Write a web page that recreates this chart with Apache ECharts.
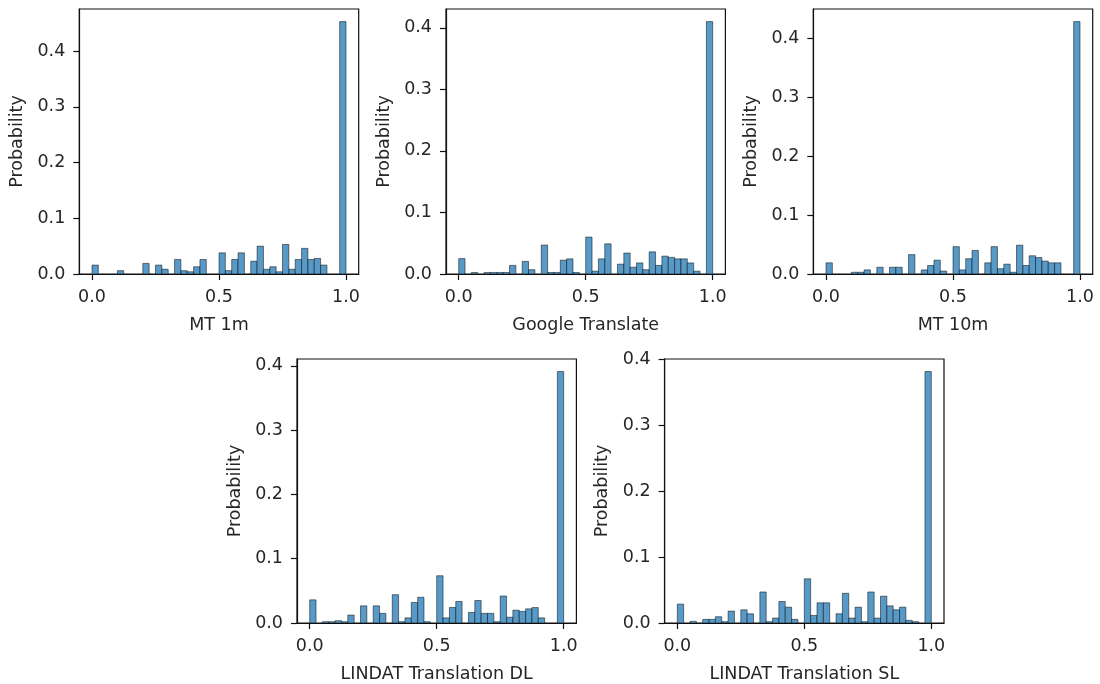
<!DOCTYPE html>
<html>
<head>
<meta charset="utf-8">
<script src="https://cdn.jsdelivr.net/npm/echarts@6/dist/echarts.min.js"></script>
<style>
  html, body { margin: 0; padding: 0; background: #fff; }
  #chart { width: 1100px; height: 684px; }
</style>
</head>
<body>
<div id="chart"></div>
<script>
// ---- Data (probability per bin; 40 bins of width 0.025 over [0, 1]) ----
const BIN_START = 0;
const BIN_WIDTH = 0.025;

const titles = ["MT 1m", "Google Translate", "MT 10m", "LINDAT Translation DL", "LINDAT Translation SL"];

const mt1m = [0.016, 0, 0, 0, 0.006, 0, 0, 0, 0.019, 0,
  0.016, 0.0085, 0, 0.026, 0.006, 0.004, 0.013, 0.026, 0, 0,
  0.038, 0.006, 0.026, 0.038, 0, 0.023, 0.05, 0.0085, 0.013, 0.004,
  0.053, 0.0085, 0.026, 0.046, 0.026, 0.028, 0.016, 0, 0, 0.453];

const googleTranslate = [0.025, 0, 0.0025, 0, 0.0025, 0.0025, 0.0025, 0.0025, 0.014, 0,
  0.0205, 0.007, 0, 0.047, 0.0025, 0.0025, 0.0225, 0.0246, 0.0025, 0,
  0.060, 0.0046, 0.0246, 0.049, 0, 0.016, 0.034, 0.011, 0.018, 0.007,
  0.036, 0.014, 0.029, 0.027, 0.0246, 0.0246, 0.018, 0.0046, 0, 0.410];

const mt10m = [0.019, 0, 0, 0, 0.003, 0.003, 0.007, 0, 0.0115, 0,
  0.0115, 0.0115, 0, 0.033, 0, 0.007, 0.0145, 0.0235, 0.005, 0,
  0.0465, 0.007, 0.026, 0.040, 0, 0.019, 0.0465, 0.009, 0.0167, 0.003,
  0.049, 0.0145, 0.031, 0.028, 0.022, 0.019, 0.019, 0, 0, 0.429];

const lindatDL = [0.036, 0, 0.002, 0.002, 0.0036, 0.002, 0.0123, 0, 0.0267, 0,
  0.0267, 0.015, 0, 0.044, 0.002, 0.008, 0.032, 0.040, 0.002, 0,
  0.0735, 0.008, 0.0242, 0.0335, 0, 0.0165, 0.035, 0.015, 0.015, 0.002,
  0.042, 0.009, 0.020, 0.018, 0.022, 0.024, 0.008, 0, 0, 0.391];

const lindatSL = [0.0286, 0, 0.0025, 0, 0.0055, 0.0055, 0.0095, 0.002, 0.018, 0,
  0.020, 0.014, 0, 0.047, 0.002, 0.0075, 0.0326, 0.024, 0.0055, 0,
  0.067, 0.0115, 0.0306, 0.0306, 0, 0.014, 0.045, 0.0075, 0.024, 0.002,
  0.047, 0.0075, 0.0406, 0.026, 0.020, 0.024, 0.004, 0.002, 0, 0.381];

const xTicks = [0, 0.5, 1.0];
const yTicks = [0, 0.1, 0.2, 0.3, 0.4];

const allSeries = [mt1m, googleTranslate, mt10m, lindatDL, lindatSL];

// ---- Layout ----
const grids = [
  { left: 79.3, top: 9, width: 279.4, height: 265 },
  { left: 446, top: 9, width: 279.4, height: 265 },
  { left: 813.3, top: 9, width: 279.4, height: 265 },
  { left: 297, top: 359, width: 279.4, height: 266 },
  { left: 664.6, top: 359, width: 279.4, height: 266 }
];

const FONT = "DejaVu Sans";
const FS = 17.5;
const TXT = "#262626";

const option = {
  animation: false,
  backgroundColor: "#ffffff",
  grid: grids.map(g => Object.assign({ show: true, borderColor: "#111", borderWidth: 1.2, backgroundColor: "transparent", containLabel: false }, g)),
  xAxis: grids.map((g, i) => ({
    type: "value",
    gridIndex: i,
    min: -0.05,
    max: 1.05,
    name: titles[i],
    nameLocation: "middle",
    nameGap: 42,
    nameTextStyle: { fontFamily: FONT, fontSize: FS, color: TXT },
    splitLine: { show: false },
    axisLine: { show: true, onZero: false, lineStyle: { color: "#111", width: 1.2 } },
    axisTick: { show: true, customValues: xTicks, length: 6, lineStyle: { color: "#111", width: 1.2 } },
    axisLabel: {
      customValues: xTicks, margin: 14,
      fontFamily: FONT, fontSize: FS, color: TXT,
      formatter: v => Number(v).toFixed(1)
    }
  })),
  yAxis: grids.map((g, i) => ({
    type: "value",
    gridIndex: i,
    min: 0,
    max: Math.max.apply(null, allSeries[i]) * 1.05,
    name: "Probability",
    nameLocation: "middle",
    nameGap: 53,
    nameRotate: 90,
    nameTextStyle: { fontFamily: FONT, fontSize: FS, color: TXT },
    splitLine: { show: false },
    axisLine: { show: true, onZero: false, lineStyle: { color: "#111", width: 1.2 } },
    axisTick: { show: true, customValues: yTicks, length: 6, lineStyle: { color: "#111", width: 1.2 } },
    axisLabel: {
      customValues: yTicks, margin: 14,
      fontFamily: FONT, fontSize: FS, color: TXT,
      formatter: v => Number(v).toFixed(1)
    }
  })),
  series: allSeries.map((vals, i) => ({
    type: "custom",
    xAxisIndex: i,
    yAxisIndex: i,
    data: vals.map((v, k) => [BIN_START + k * BIN_WIDTH, BIN_START + (k + 1) * BIN_WIDTH, v]),
    encode: { x: [0, 1], y: 2 },
    renderItem: function (params, api) {
      const h = api.value(2);
      if (!h) return null;
      const p0 = api.coord([api.value(0), 0]);
      const p1 = api.coord([api.value(1), h]);
      return {
        type: "rect",
        shape: { x: p0[0], y: p1[1], width: p1[0] - p0[0], height: p0[1] - p1[1] },
        style: { fill: "#5799c7", stroke: "rgba(0,0,0,0.7)", lineWidth: 0.7 }
      };
    }
  }))
};

const chart = echarts.init(document.getElementById("chart"), null, { renderer: "canvas" });
chart.setOption(option);
</script>
</body>
</html>
